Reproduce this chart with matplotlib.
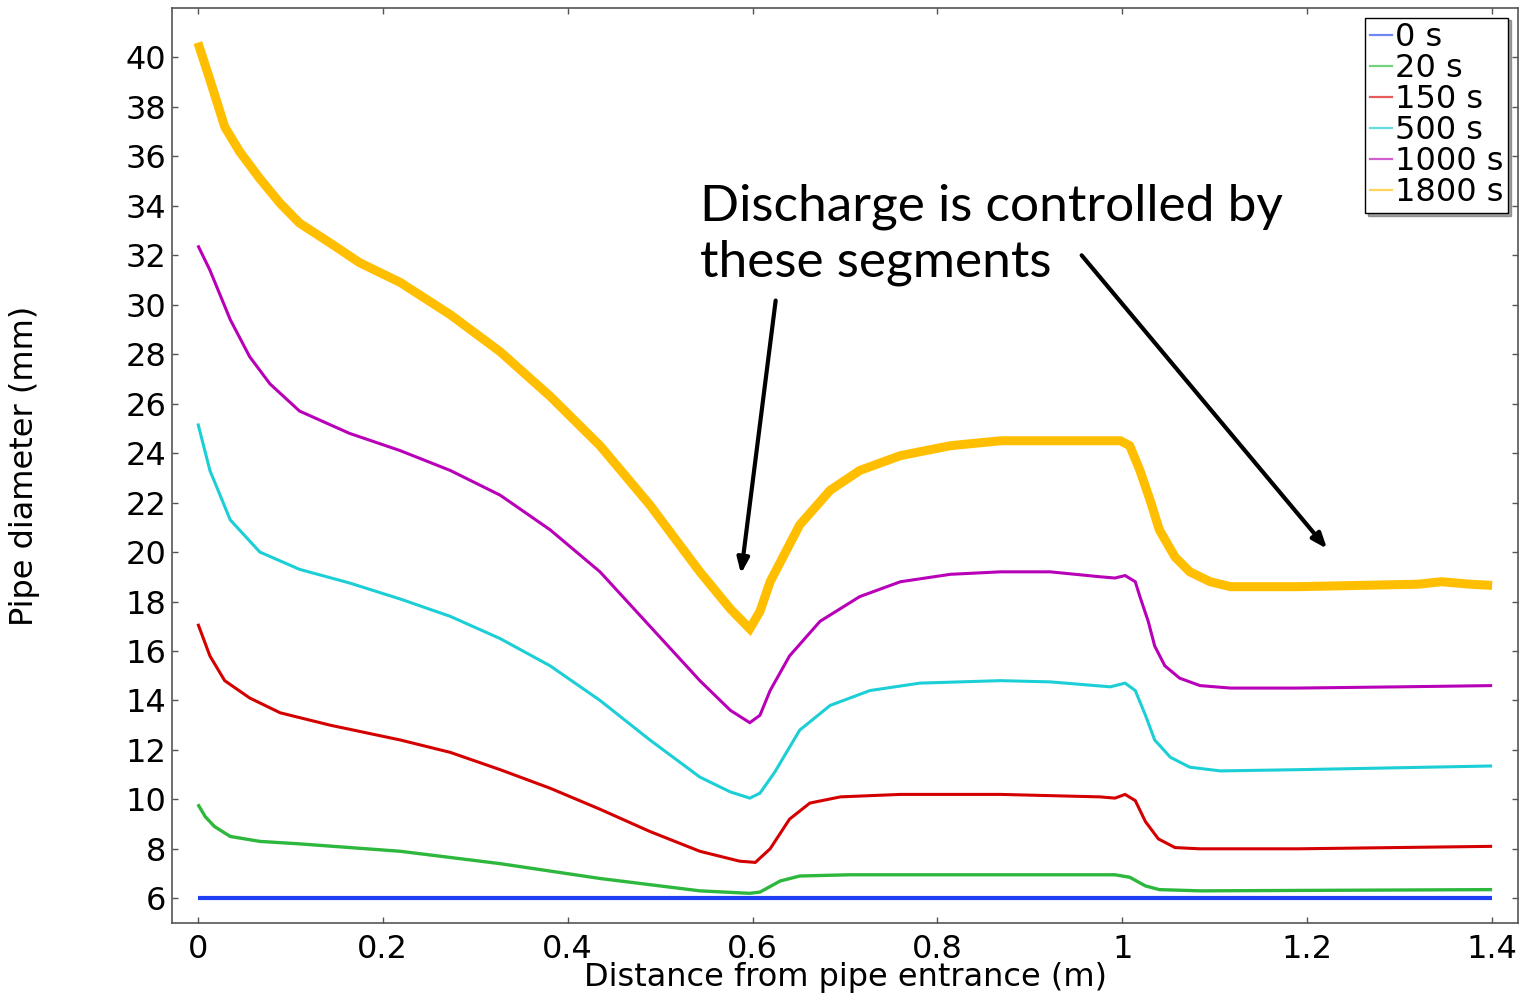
import matplotlib
matplotlib.use("Agg")
import matplotlib.pyplot as plt
from matplotlib.lines import Line2D

# ---- data ----
x_0s = [0.0, 1.4]
y_0s = [6.0, 6.0]

x_20s = [0.0, 0.008, 0.018, 0.035, 0.067, 0.11, 0.219, 0.327, 0.435, 0.543, 0.597, 0.608,
         0.63, 0.651, 0.705, 0.868, 0.992, 1.008, 1.025, 1.04, 1.084, 1.4]
y_20s = [9.8, 9.3, 8.9, 8.5, 8.3, 8.2, 7.9, 7.4, 6.8, 6.3, 6.2, 6.25,
         6.7, 6.9, 6.95, 6.95, 6.95, 6.85, 6.5, 6.35, 6.3, 6.35]

x_150s = [0.0, 0.013, 0.029, 0.056, 0.089, 0.143, 0.219, 0.273, 0.327, 0.381, 0.435, 0.489,
          0.543, 0.586, 0.603, 0.619, 0.64, 0.662, 0.695, 0.76, 0.868, 0.976, 0.992, 1.003,
          1.014, 1.025, 1.039, 1.057, 1.084, 1.19, 1.4]
y_150s = [17.1, 15.8, 14.8, 14.1, 13.5, 13.0, 12.4, 11.9, 11.2, 10.45, 9.6, 8.7,
          7.9, 7.5, 7.45, 8.0, 9.2, 9.85, 10.1, 10.2, 10.2, 10.1, 10.05, 10.2,
          9.95, 9.1, 8.4, 8.05, 8.0, 8.0, 8.1]

x_500s = [0.0, 0.013, 0.035, 0.067, 0.11, 0.164, 0.219, 0.273, 0.327, 0.381, 0.435, 0.489,
          0.543, 0.576, 0.597, 0.608, 0.624, 0.651, 0.684, 0.727, 0.781, 0.868, 0.922, 0.987,
          1.003, 1.014, 1.025, 1.035, 1.052, 1.073, 1.106, 1.19, 1.4]
y_500s = [25.2, 23.3, 21.3, 20.0, 19.3, 18.75, 18.1, 17.4, 16.5, 15.4, 14.0, 12.4,
          10.9, 10.3, 10.05, 10.25, 11.1, 12.8, 13.8, 14.4, 14.7, 14.8, 14.75, 14.55,
          14.7, 14.4, 13.4, 12.4, 11.7, 11.3, 11.15, 11.2, 11.35]

x_1000s = [0.0, 0.013, 0.035, 0.056, 0.078, 0.11, 0.164, 0.219, 0.273, 0.327, 0.381, 0.435,
           0.489, 0.543, 0.576, 0.597, 0.608, 0.619, 0.64, 0.673, 0.716, 0.76, 0.814, 0.868,
           0.922, 0.976, 0.992, 1.003, 1.014, 1.019, 1.028, 1.035, 1.046, 1.062, 1.084, 1.117,
           1.19, 1.3, 1.4]
y_1000s = [32.4, 31.4, 29.4, 27.9, 26.8, 25.7, 24.8, 24.1, 23.3, 22.3, 20.9, 19.2,
           17.0, 14.8, 13.6, 13.1, 13.4, 14.4, 15.8, 17.2, 18.2, 18.8, 19.1, 19.2,
           19.2, 19.0, 18.95, 19.05, 18.8, 18.2, 17.2, 16.2, 15.4, 14.9, 14.6, 14.5,
           14.5, 14.55, 14.6]

x_1800s = [0.0, 0.013, 0.029, 0.045, 0.067, 0.089, 0.11, 0.143, 0.175, 0.219, 0.273, 0.327,
           0.381, 0.435, 0.489, 0.543, 0.576, 0.597, 0.608, 0.619, 0.651, 0.684, 0.716, 0.76,
           0.814, 0.868, 0.922, 0.998, 1.008, 1.019, 1.03, 1.04, 1.057, 1.073, 1.095, 1.117,
           1.19, 1.32, 1.345, 1.376, 1.4]
y_1800s = [40.6, 39.1, 37.2, 36.2, 35.1, 34.1, 33.3, 32.5, 31.7, 30.9, 29.6, 28.1,
           26.3, 24.3, 21.9, 19.2, 17.7, 16.9, 17.6, 18.8, 21.1, 22.5, 23.3, 23.9,
           24.3, 24.5, 24.5, 24.5, 24.3, 23.3, 22.1, 20.9, 19.8, 19.2, 18.8, 18.6,
           18.6, 18.7, 18.8, 18.7, 18.65]

labels = ["0 s", "20 s", "150 s", "500 s", "1000 s", "1800 s"]
x_ticks = [0, 0.2, 0.4, 0.6, 0.8, 1.0, 1.2, 1.4]
x_tick_labels = ["0", "0.2", "0.4", "0.6", "0.8", "1", "1.2", "1.4"]
y_ticks = list(range(6, 42, 2))

series = [(x_0s, y_0s), (x_20s, y_20s), (x_150s, y_150s),
          (x_500s, y_500s), (x_1000s, y_1000s), (x_1800s, y_1800s)]
colors = ["#1f3ff5", "#2db83d", "#d40000", "#1ccfd6", "#b800b8", "#ffbf00"]
legend_colors = ["#6f87f2", "#72d27d", "#e65a5a", "#63dfe3", "#cf5fcf", "#ffd45a"]
widths = [3.0, 2.4, 2.2, 2.2, 2.2, 6.5]

fig = plt.figure(figsize=(15.22, 9.96), dpi=100)
ax = fig.add_axes([172 / 1522, 1 - 923 / 996, (1518 - 172) / 1522, (923 - 8) / 996])

for (xs, ys), c, w in zip(series, colors, widths):
    ax.plot(xs, ys, color=c, lw=w, solid_capstyle="butt", solid_joinstyle="miter")

ax.set_xlim(-0.028, 1.428)
ax.set_ylim(5.0, 42.0)
ax.set_xticks(x_ticks)
ax.set_xticklabels(x_tick_labels)
ax.set_yticks(y_ticks)
ax.tick_params(direction="in", top=True, right=True, length=4, width=1,
               color="#555555", labelsize=23)
ax.tick_params(axis="x", pad=8)
ax.tick_params(axis="y", pad=4)
for s in ax.spines.values():
    s.set_color("#555555")
    s.set_linewidth(1.2)

ax.set_xlabel("Distance from pipe entrance (m)", fontsize=23)
ax.xaxis.set_label_coords(0.5, -0.043)
ax.set_ylabel("Pipe diameter (mm)", fontsize=23)
ax.yaxis.set_label_coords(-0.098, 0.5)

handles = [Line2D([0], [0], color=c, lw=1.6) for c in legend_colors]
leg = ax.legend(handles, labels, loc="upper right", fontsize=23, handlelength=0.7,
                handletextpad=0.1, labelspacing=0.0, borderpad=0.15, borderaxespad=0.3,
                frameon=True, fancybox=False, shadow=True, edgecolor="black")
leg.get_frame().set_linewidth(1.0)

# annotation
ax.text(0.543, 33.4, "Discharge is controlled by", fontsize=37, family="Lato",
        va="baseline", ha="left")
ax.text(0.543, 31.15, "these segments", fontsize=37, family="Lato",
        va="baseline", ha="left")
ax.annotate("", xy=(0.5875, 19.12), xytext=(0.625, 30.17),
            arrowprops=dict(arrowstyle="-|>,head_length=0.9,head_width=0.35",
                            color="black", lw=3, shrinkA=0, shrinkB=0))
ax.annotate("", xy=(1.2215, 20.13), xytext=(0.956, 32.0),
            arrowprops=dict(arrowstyle="-|>,head_length=0.9,head_width=0.35",
                            color="black", lw=3, shrinkA=0, shrinkB=0))

fig.savefig("out.png", dpi=100)
